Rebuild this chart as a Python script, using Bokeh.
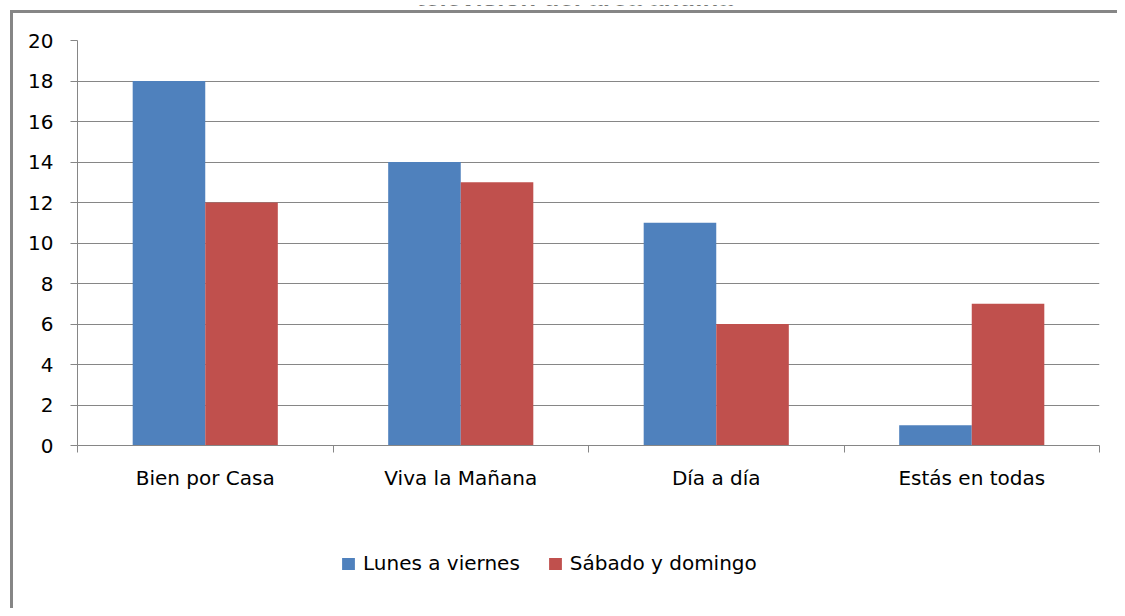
from bokeh.plotting import figure
from bokeh.layouts import column
from bokeh.models import Range1d, FixedTicker, Legend, LegendItem, Label
from bokeh.embed import file_html
from bokeh.resources import INLINE

title_text = "televisión del área andina"
categories = ["Bien por Casa", "Viva la Mañana", "Día a día", "Estás en todas"]
series_names = ["Lunes a viernes", "Sábado y domingo"]
lunes = [18, 14, 11, 1]
sabado = [12, 13, 6, 7]
y_ticks = [0, 2, 4, 6, 8, 10, 12, 14, 16, 18, 20]

BLUE = "#4F81BD"
RED = "#C0504D"
GRID = "#868686"
FONT = "DejaVu Sans"

W = 1117
H_TITLE = 7
H_MAIN = 493
H_LEG = 108


def bare(height):
    f = figure(width=W, height=height, x_range=Range1d(0, 1), y_range=Range1d(0, 1),
               output_backend="svg", toolbar_location=None,
               x_axis_location=None, y_axis_location=None, min_border=0)
    f.outline_line_color = None
    f.border_fill_alpha = 0
    f.background_fill_alpha = 0
    f.grid.visible = False
    return f


# title strip (the title is cut by the top edge, as in the original)
pt = bare(H_TITLE)
pt.add_layout(Label(x=497, y=16, x_units="screen", y_units="screen", text=title_text,
                    text_align="center", text_baseline="alphabetic", text_font="Liberation Sans",
                    text_font_style="bold", text_font_size="26px", text_color="black"))

# main chart
p = figure(width=W, height=H_MAIN, x_range=Range1d(0, len(categories)), y_range=Range1d(0, 20),
           output_backend="svg", toolbar_location=None,
           min_border_left=77, min_border_right=18, min_border_top=33, min_border_bottom=55)
p.outline_line_color = None
p.border_fill_alpha = 0
p.background_fill_color = "white"
p.xgrid.grid_line_color = None
p.ygrid.grid_line_color = GRID
p.ygrid.grid_line_alpha = 1
p.ygrid.ticker = FixedTicker(ticks=y_ticks)

bw = 0.284
centers = [i + 0.5 for i in range(len(categories))]
x_lunes = [c - bw / 2 for c in centers]
x_sabado = [c + bw / 2 for c in centers]
p.vbar(x=x_lunes, top=lunes, width=bw, bottom=0, fill_color=BLUE, line_color=None)
p.vbar(x=x_sabado, top=sabado, width=bw, bottom=0, fill_color=RED, line_color=None)

ya = p.yaxis[0]
ya.ticker = FixedTicker(ticks=y_ticks)
ya.axis_line_color = GRID
ya.major_tick_line_color = GRID
ya.major_tick_out = 7
ya.major_tick_in = 0
ya.minor_tick_line_color = None
ya.major_label_standoff = 17
ya.major_label_text_font = FONT
ya.major_label_text_font_size = "20px"
ya.major_label_text_color = "black"

xa = p.xaxis[0]
xa.ticker = FixedTicker(ticks=centers, minor_ticks=list(range(len(categories) + 1)))
xa.major_label_overrides = {c: name for c, name in zip(centers, categories)}
xa.axis_line_color = GRID
xa.major_tick_line_color = None
xa.major_tick_out = 0
xa.major_tick_in = 0
xa.minor_tick_line_color = GRID
xa.minor_tick_out = 7
xa.minor_tick_in = 0
xa.major_label_standoff = 13
xa.major_label_text_font = FONT
xa.major_label_text_font_size = "20px"
xa.major_label_text_color = "black"

# legend strip below the chart (its bars lie outside its visible range)
pl = bare(H_LEG)
pl.x_range = Range1d(0, len(categories))
pl.y_range = Range1d(100, 101)
lr1 = pl.vbar(x=x_lunes, top=lunes, width=bw, bottom=0, fill_color=BLUE, line_color=None)
lr2 = pl.vbar(x=x_sabado, top=sabado, width=bw, bottom=0, fill_color=RED, line_color=None)
legend = Legend(items=[LegendItem(label=series_names[0], renderers=[lr1]),
                       LegendItem(label=series_names[1], renderers=[lr2])],
                orientation="horizontal", location=(263, 33))
legend.padding = 0
legend.margin = 0
legend.border_line_color = None
legend.background_fill_alpha = 0
legend.glyph_width = 16
legend.glyph_height = 15
legend.label_height = 15
legend.label_standoff = 7
legend.spacing = 27
legend.label_text_font = FONT
legend.label_text_font_size = "20px"
legend.label_text_color = "black"
pl.add_layout(legend)

layout = column(pt, p, pl, spacing=0)
layout.styles = {
    "background-color": "white",
    "background-image": f"linear-gradient({GRID}, {GRID}), linear-gradient({GRID}, {GRID})",
    "background-size": "3px 100%, 100% 3px",
    "background-position": "10px 10px, 10px 10px",
    "background-repeat": "no-repeat",
}

open("out.html", "w").write(file_html(layout, INLINE))
